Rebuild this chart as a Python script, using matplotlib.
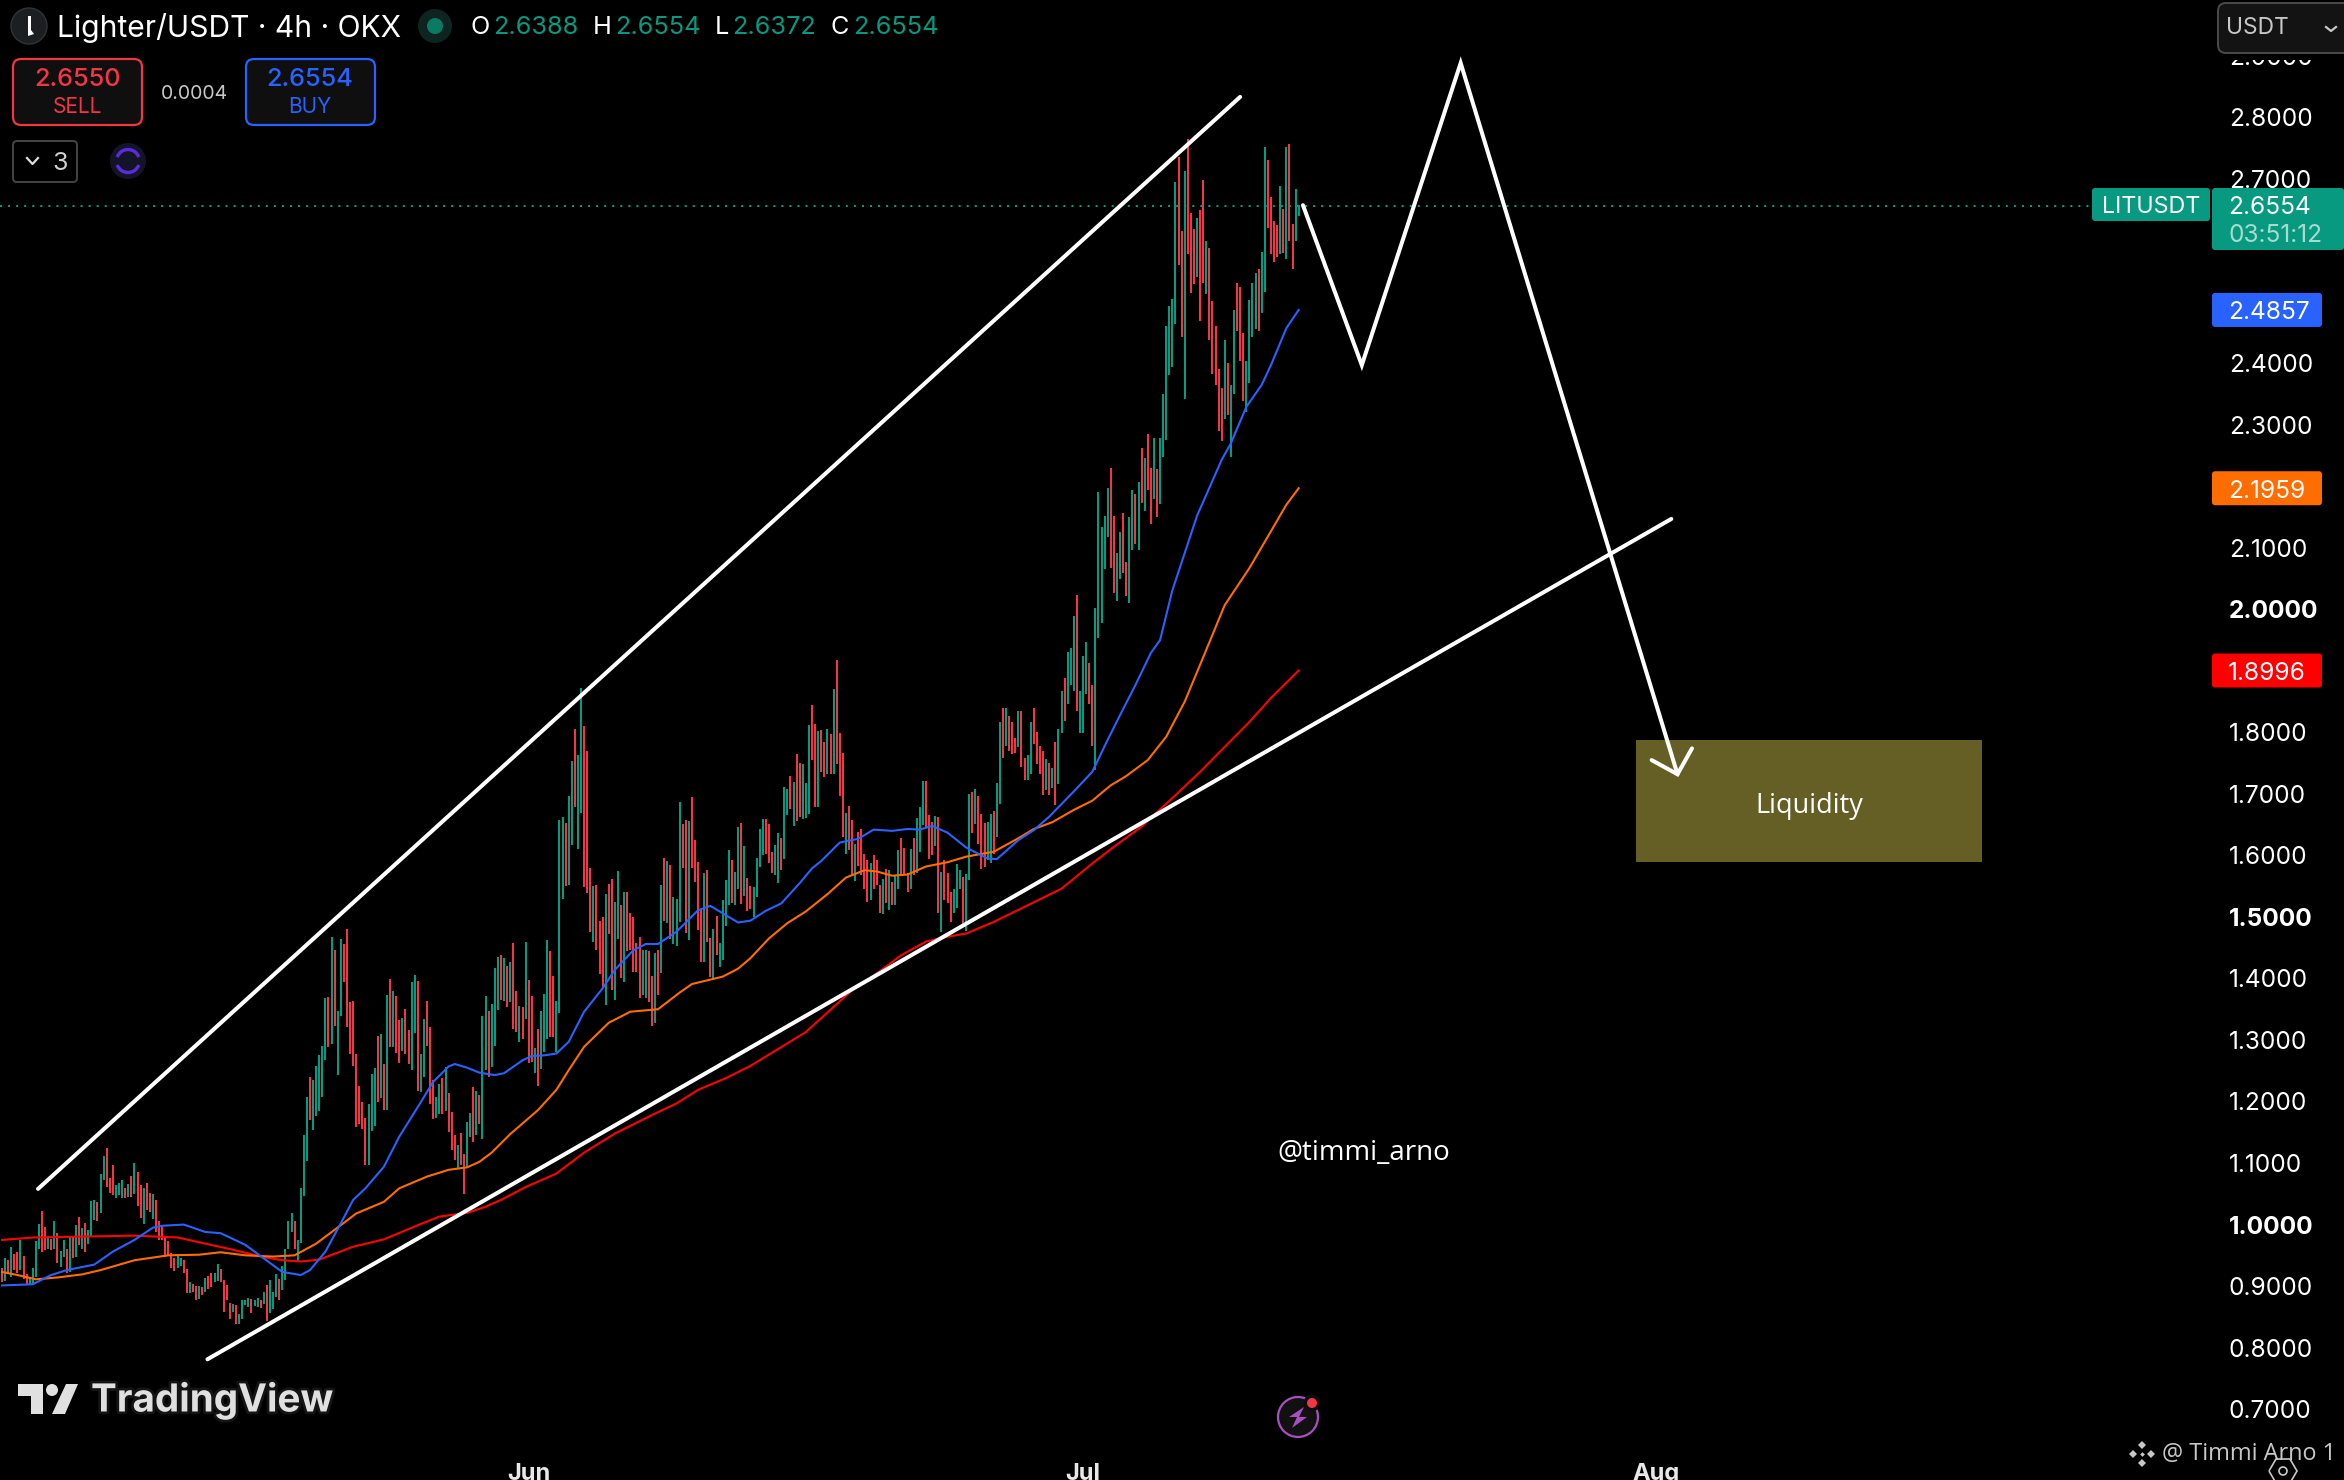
import numpy as np
import matplotlib
matplotlib.use('Agg')
import matplotlib.pyplot as plt
import matplotlib.patheffects as pe
from matplotlib.patches import FancyBboxPatch, Rectangle, Circle, Polygon, Arc

plt.rcParams['font.family'] = ['Inter', 'DejaVu Sans']

###################
### CHART DATA ###
###################

# 4h bars, one entry per bar (only the high-low range is visible in this chart style)
bar_high = [
    .928, .944, .941, .963, .951, .955, .974, .948, .919, .913,
    .928, .972, 1.000, 1.021, .995, .980, .975, 1.005, .986, .956,
    .974, .959, .978, .979, .998, 1.011, .993, 1.002, .990, 1.037,
    1.039, 1.035, 1.082, 1.110, 1.123, 1.074, 1.096, 1.063, 1.066, 1.072,
    1.059, 1.065, 1.078, 1.099, 1.084, 1.063, 1.058, 1.066, 1.050, 1.049,
    1.039, 1.004, .995, .979, .972, .952, .944, .951, .944, .942,
    .927, .905, .903, .899, .899, .898, .912, .916, .921, .921,
    .935, .926, .909, .900, .871, .870, .868, .853, .876, .876,
    .880, .878, .876, .879, .876, .890, .901, .909, .889, .919,
    .910, .932, .960, 1.004, 1.017, 1.004, .974,
    1.058, 1.145, 1.206, 1.239, 1.234, 1.257, 1.275, 1.289, 1.367, 1.369,
    1.466, 1.445, 1.346, 1.463, 1.455, 1.479, 1.361, 1.362, 1.276, 1.224,
    1.198, 1.172, 1.195, 1.244, 1.253, 1.305, 1.309, 1.260, 1.372, 1.398,
    1.379, 1.370, 1.331, 1.335, 1.349, 1.315, 1.393, 1.405, 1.395, 1.276,
    1.333, 1.362, 1.320, 1.234, 1.206, 1.227, 1.237, 1.255, 1.213, 1.182,
    1.144, 1.128, 1.148, 1.114, 1.166, 1.180, 1.222, 1.216, 1.209, 1.338,
    1.370, 1.346, 1.357, 1.416, 1.434, 1.437, 1.432, 1.419, 1.426, 1.457,
    1.379, 1.354, 1.353, 1.458, 1.397, 1.371, 1.286, 1.317, 1.346, 1.374,
    1.462, 1.444, 1.403, 1.362, 1.657, 1.661, 1.652, 1.696, 1.753, 1.805,
    1.762, 1.871, 1.809, 1.769, 1.578, 1.549, 1.551, 1.492, 1.499, 1.536,
    1.552, 1.561, 1.523, 1.574, 1.518, 1.539, 1.539, 1.505, 1.499, 1.457,
    1.466, 1.446, 1.445, 1.444, 1.403, 1.440, 1.445, 1.551, 1.595, 1.590,
    1.583, 1.531, 1.528, 1.686, 1.650, 1.657, 1.655, 1.694, 1.624, 1.588,
    1.510, 1.570, 1.576, 1.465, 1.479, 1.500, 1.457, 1.527, 1.559, 1.608,
    1.592, 1.572, 1.645, 1.652, 1.614, 1.562, 1.549, 1.548, 1.595, 1.642,
    1.658, 1.658, 1.650, 1.605, 1.616, 1.635, 1.627, 1.710, 1.707, 1.728,
    1.718, 1.764, 1.749, 1.748, 1.717, 1.811, 1.843, 1.813, 1.801, 1.803,
    1.783, 1.805, 1.796, 1.870, 1.917, 1.798, 1.766, 1.668, 1.679, 1.657,
    1.618, 1.637, 1.642, 1.601, 1.592, 1.587, 1.600, 1.592, 1.551, 1.561,
    1.577, 1.575, 1.556, 1.565, 1.608, 1.627, 1.611, 1.570, 1.609, 1.627,
    1.660, 1.678, 1.720, 1.720, 1.665, 1.653, 1.663, 1.661, 1.572, 1.592,
    1.570, 1.540, 1.544, 1.585, 1.575, 1.564, 1.569, 1.699, 1.702, 1.707,
    1.696, 1.666, 1.652, 1.653, 1.666, 1.671, 1.717, 1.816, 1.839, 1.839,
    1.826, 1.816, 1.790, 1.834, 1.834, 1.757, 1.762, 1.816, 1.839, 1.800,
    1.777, 1.769, 1.756, 1.749, 1.741, 1.783, 1.805, 1.866, 1.887, 1.930,
    1.936, 1.988, 2.022, 1.866, 1.923, 1.946, 1.912, 1.876, 2.001, 2.190,
    2.133, 2.151, 2.196, 2.229, 2.151, 2.091, 2.125, 2.156, 2.076, 2.149,
    2.193, 2.186, 2.206, 2.261, 2.245, 2.284, 2.229, 2.278, 2.227, 2.277,
    2.349, 2.460, 2.492, 2.503, 2.694, 2.734, 2.614, 2.712, 2.764, 2.643,
    2.617, 2.635, 2.648, 2.697, 2.598, 2.586, 2.500, 2.460, 2.390, 2.359,
    2.437, 2.399, 2.364, 2.486, 2.530, 2.523, 2.448, 2.403, 2.502, 2.530,
    2.546, 2.552, 2.580, 2.750, 2.729, 2.669, 2.630, 2.623, 2.687, 2.649,
    2.750, 2.756, 2.625, 2.683, 2.656,
]
bar_low = [
    .906, .907, .920, .914, .925, .920, .925, .910, .903, .900,
    .903, .914, .960, .955, .958, .960, .958, .959, .936, .930,
    .947, .921, .922, .944, .947, .965, .959, .954, .968, .980,
    1.007, 1.005, 1.018, 1.071, 1.060, 1.050, 1.047, 1.042, 1.047, 1.042,
    1.042, 1.043, 1.044, 1.049, 1.029, 1.009, 1.000, 1.023, 1.020, 1.008,
    .987, .974, .974, .947, .948, .929, .923, .928, .932, .920,
    .888, .888, .890, .876, .878, .885, .890, .894, .897, .906,
    .908, .906, .857, .876, .845, .857, .838, .837, .846, .868,
    .865, .856, .866, .865, .864, .870, .842, .855, .862, .882,
    .876, .893, .909, .960, .987, .959, .940,
    .969, 1.045, 1.102, 1.169, 1.153, 1.175, 1.184, 1.206, 1.266, 1.288,
    1.292, 1.322, 1.242, 1.338, 1.393, 1.320, 1.276, 1.257, 1.157, 1.162,
    1.154, 1.096, 1.096, 1.151, 1.159, 1.198, 1.205, 1.185, 1.185, 1.288,
    1.288, 1.278, 1.262, 1.281, 1.276, 1.260, 1.250, 1.310, 1.216, 1.214,
    1.239, 1.289, 1.195, 1.170, 1.172, 1.179, 1.179, 1.184, 1.149, 1.120,
    1.104, 1.089, 1.096, 1.049, 1.091, 1.141, 1.133, 1.144, 1.162, 1.138,
    1.250, 1.239, 1.255, 1.289, 1.348, 1.364, 1.362, 1.353, 1.361, 1.317,
    1.312, 1.296, 1.301, 1.333, 1.262, 1.263, 1.245, 1.224, 1.252, 1.279,
    1.301, 1.304, 1.304, 1.279, 1.343, 1.528, 1.549, 1.551, 1.616, 1.678,
    1.609, 1.668, 1.548, 1.538, 1.474, 1.458, 1.445, 1.406, 1.383, 1.356,
    1.471, 1.380, 1.364, 1.463, 1.399, 1.394, 1.443, 1.445, 1.410, 1.410,
    1.367, 1.372, 1.367, 1.360, 1.321, 1.326, 1.372, 1.408, 1.492, 1.489,
    1.463, 1.455, 1.451, 1.491, 1.578, 1.473, 1.462, 1.578, 1.556, 1.478,
    1.426, 1.426, 1.458, 1.402, 1.396, 1.437, 1.418, 1.429, 1.485, 1.518,
    1.521, 1.518, 1.544, 1.520, 1.533, 1.508, 1.512, 1.499, 1.532, 1.581,
    1.600, 1.602, 1.586, 1.571, 1.567, 1.555, 1.576, 1.593, 1.665, 1.674,
    1.647, 1.655, 1.662, 1.659, 1.660, 1.666, 1.754, 1.678, 1.678, 1.735,
    1.727, 1.731, 1.732, 1.732, 1.748, 1.696, 1.629, 1.601, 1.608, 1.567,
    1.557, 1.582, 1.567, 1.544, 1.524, 1.526, 1.545, 1.551, 1.505, 1.504,
    1.521, 1.510, 1.518, 1.518, 1.544, 1.565, 1.567, 1.540, 1.545, 1.567,
    1.570, 1.605, 1.648, 1.646, 1.593, 1.600, 1.614, 1.505, 1.475, 1.526,
    1.521, 1.491, 1.505, 1.513, 1.545, 1.483, 1.476, 1.559, 1.635, 1.650,
    1.618, 1.577, 1.581, 1.591, 1.586, 1.602, 1.629, 1.683, 1.757, 1.777,
    1.769, 1.764, 1.765, 1.776, 1.743, 1.722, 1.722, 1.732, 1.780, 1.748,
    1.732, 1.697, 1.705, 1.697, 1.708, 1.681, 1.715, 1.798, 1.818, 1.845,
    1.876, 1.866, 1.833, 1.798, 1.798, 1.861, 1.845, 1.777, 1.738, 1.952,
    1.977, 2.065, 2.117, 2.066, 2.026, 2.013, 2.048, 2.058, 2.021, 2.009,
    2.095, 2.105, 2.095, 2.172, 2.159, 2.193, 2.138, 2.178, 2.149, 2.171,
    2.247, 2.274, 2.380, 2.393, 2.463, 2.558, 2.441, 2.341, 2.577, 2.514,
    2.528, 2.540, 2.467, 2.530, 2.512, 2.437, 2.382, 2.363, 2.289, 2.272,
    2.309, 2.315, 2.247, 2.349, 2.452, 2.403, 2.338, 2.319, 2.367, 2.442,
    2.455, 2.452, 2.480, 2.515, 2.619, 2.577, 2.564, 2.572, 2.577, 2.578,
    2.569, 2.598, 2.553, 2.598, 2.638,
]
# g = up bar, r = down bar
bar_dir = (
    'rgrgrrgrrg' 'gggrrgrgrg' 'grgrgrgrgg' 'grggrrrggg' 'rgrgrrgrrg'
    'rrrrrrrggr' 'rgrrgrgrrg' 'grrrrgrggg' 'grggrgrggg' 'rggggrg'
    'gggrgggggr' 'grggrrrrrr' 'rrgggrgrgr' 'grrgrrggrg' 'grrrggrgrr'
    'rgrrggrgrg' 'grgggrgrgr' 'rgrgrrgrgg' 'grrgggrggr' 'ggrrrgrrrg'
    'rrggrgrrrr' 'rggrrgrgrg' 'rgggrrgrrr'
    'rgrrgrgggg' 'rggrgrrggg' 'grrrggrggr' 'grrgggrrgr' 'rgrgrrrgrr'
    'grrrrgrrrg' 'rgrggrrrgr' 'gggrrrgrgr' 'rrgggrggrg' 'rrrggrggrg'
    'rrrgrrggrr' 'rrgrgrggrg'
    'ggrgggrrgg' 'gggrrggrrg' 'grgrgrrgrg' 'gggggrrgrr' 'rgrrgrrrrr'
    'grggrrrggg' 'grggrrrrgr' 'grrgg'
)

# moving averages, read at bar positions
ema_blue_x = [0, 10, 16, 21, 30, 36, 43, 49, 52, 59, 66, 71, 79, 85, 91, 97, 100, 105, 110, 114,
              118, 124, 129, 135, 140, 145, 147, 151, 155, 160, 163, 169, 172, 176, 180, 184, 189,
              195, 199, 205, 209, 213, 219, 226, 230, 235, 239, 243, 248, 253, 259, 263, 266, 272,
              278, 283, 289, 294, 298, 302, 307, 313, 320, 323, 330, 335, 340, 348, 354, 359, 363,
              368, 373, 376, 380, 388, 396, 399, 404, 409, 412, 417, 421]
ema_blue_y = [.900, .902, .917, .925, .934, .955, .974, .994, .997, .999, .987, .985, .966, .944, .922, .917, .925, .955, 1.001, 1.039,
              1.058, 1.093, 1.142, 1.190, 1.231, 1.256, 1.260, 1.254, 1.246, 1.242, 1.245, 1.266, 1.273, 1.274, 1.277, 1.296, 1.345,
              1.383, 1.413, 1.445, 1.455, 1.455, 1.475, 1.510, 1.517, 1.502, 1.490, 1.493, 1.509, 1.521, 1.554, 1.578, 1.590, 1.620,
              1.626, 1.641, 1.639, 1.642, 1.641, 1.647, 1.636, 1.612, 1.594, 1.593, 1.624, 1.640, 1.662, 1.703, 1.735, 1.787, 1.827,
              1.876, 1.928, 1.949, 2.030, 2.151, 2.242, 2.269, 2.328, 2.364, 2.396, 2.456, 2.4857]
ema_orange_x = [0, 5, 11, 18, 26, 32, 43, 54, 64, 71, 79, 88, 95, 102, 110, 115, 124, 129, 138, 145,
                151, 155, 159, 165, 174, 180, 184, 189, 197, 204, 213, 220, 224, 234, 239, 243, 249,
                255, 261, 268, 274, 280, 284, 289, 294, 300, 307, 313, 322, 330, 335, 341, 348, 354,
                360, 365, 372, 378, 384, 389, 397, 405, 412, 417, 421]
ema_orange_y = [.922, .917, .910, .913, .918, .925, .941, .949, .950, .954, .949, .947, .949, .968, .998, 1.017, 1.036, 1.058, 1.077, 1.088,
                1.092, 1.101, 1.116, 1.146, 1.185, 1.218, 1.250, 1.288, 1.327, 1.345, 1.349, 1.376, 1.390, 1.402, 1.415, 1.432, 1.464,
                1.489, 1.508, 1.536, 1.563, 1.575, 1.573, 1.566, 1.568, 1.581, 1.588, 1.597, 1.605, 1.627, 1.642, 1.653, 1.673, 1.688,
                1.713, 1.728, 1.754, 1.792, 1.849, 1.909, 2.006, 2.066, 2.126, 2.169, 2.1959]
ema_red_x = [0, 10, 21, 32, 43, 57, 66, 75, 84, 91, 97, 103, 114, 124, 135, 142, 151, 157, 162, 170,
             180, 189, 199, 211, 219, 226, 235, 243, 261, 276, 281, 292, 300, 307, 313, 322, 333,
             344, 354, 361, 370, 381, 389, 405, 412, 421]
ema_red_y = [.974, .978, .979, .980, .981, .978, .968, .958, .947, .941, .939, .942, .963, .975, .998, 1.012, 1.018, 1.028, 1.039, 1.060,
             1.082, 1.116, 1.147, 1.177, 1.196, 1.218, 1.237, 1.257, 1.312, 1.380, 1.396, 1.437, 1.459, 1.467, 1.472, 1.491, 1.518,
             1.545, 1.586, 1.613, 1.646, 1.697, 1.735, 1.816, 1.855, 1.8996]

# hand drawn lines on the chart (bar position, price)
channel_top_x = [11.7, 402]
channel_top_y = [1.057, 2.832]
channel_bot_x = [66.7, 542]
channel_bot_y = [.780, 2.146]
path_x = [422.4, 441.5, 473.6, 544]
path_y = [2.656, 2.396, 2.887, 1.731]
head_x = [535.6, 544, 548.7]
head_y = [1.754, 1.731, 1.773]
liq_x = [530.5, 643]
liq_y = [1.588, 1.787]

# axes
y_ticks = [2.9, 2.8, 2.7, 2.6, 2.5, 2.4, 2.3, 2.2, 2.1, 2.0, 1.9, 1.8, 1.7, 1.6, 1.5,
           1.4, 1.3, 1.2, 1.1, 1.0, 0.9, 0.8, 0.7]
y_bold = [2.0, 1.5, 1.0]
x_ticks = [171, 351, 537]
x_labels = ['Jun', 'Jul', 'Aug']
last_price = 2.6554
ema_last = [2.4857, 2.1959, 1.8996]

GREEN = '#089981'
RED = '#F23645'
BLUE = '#2962FF'
ORANGE = '#FF6D00'
PURE_RED = '#FF0000'
W, H = 2344, 1480

##################
### MAIN CHART ###
##################

fig = plt.figure(figsize=(W / 100, H / 100), dpi=100, facecolor='black')
ax = fig.add_axes([0, 0, 1, 1])
ax.set_facecolor('black')
ax.set_xlim(-0.65, 760.4)
ax.set_ylim(0.5838, 2.9895)
ax.set_axis_off()

idx = np.arange(len(bar_high))
cols = [GREEN if d == 'g' else RED for d in bar_dir]
ax.vlines(idx, bar_low, bar_high, colors=cols, linewidth=1.45, zorder=2)

ax.plot(ema_red_x, ema_red_y, color=PURE_RED, lw=1.5, zorder=3)
ax.plot(ema_orange_x, ema_orange_y, color=ORANGE, lw=1.5, zorder=3)
ax.plot(ema_blue_x, ema_blue_y, color=BLUE, lw=1.5, zorder=3)

ax.axhline(last_price, xmin=0, xmax=2092 / W, color=GREEN, lw=1.45, ls=(0, (1, 3)), zorder=3)

white = dict(color='white', lw=2.9, solid_capstyle='round', solid_joinstyle='miter', zorder=4)
ax.plot(channel_top_x, channel_top_y, **white)
ax.plot(channel_bot_x, channel_bot_y, **white)
ax.plot(path_x, path_y, **white)
ax.plot(head_x, head_y, **white)

ax.add_patch(Rectangle((liq_x[0], liq_y[0]), liq_x[1] - liq_x[0], liq_y[1] - liq_y[0],
                       facecolor='#655F26', edgecolor='none', zorder=1))
ax.text(sum(liq_x) / 2, 1.680, 'Liquidity', color='white', ha='center', va='center',
        fontsize=19.5, family=['Open Sans', 'DejaVu Sans'], zorder=5)
ax.text(442, 1.1146, '@timmi_arno', color='white', ha='center', va='center',
        fontsize=20, family=['Open Sans', 'DejaVu Sans'], zorder=5)

# price and time labels
ytrans = ax.get_yaxis_transform()
for v in y_ticks:
    ax.text(2229 / W, v - 0.005, '%.4f' % v, transform=ytrans, color='white', fontsize=17.6, ha='left', va='center',
            fontweight='bold' if v in y_bold else 'normal', zorder=5)
xtrans = ax.get_xaxis_transform()
for t, lab in zip(x_ticks, x_labels):
    ax.text(t, 1 - 1474 / H, lab, transform=xtrans, color='#e8e8e8', fontsize=17, fontweight='bold',
            ha='center', va='center', zorder=5)

##################################
### TRADINGVIEW SCREEN OVERLAY ###
##################################

ov = fig.add_axes([0, 0, 1, 1])
ov.set_xlim(0, W)
ov.set_ylim(H, 0)
ov.set_axis_off()
ov.patch.set_alpha(0)


def box(x0, y0, x1, y1, face, edge='none', lw=0, r=8):
    ov.add_patch(FancyBboxPatch((x0 + r, y0 + r), x1 - x0 - 2 * r, y1 - y0 - 2 * r,
                                boxstyle='round,pad=%g,rounding_size=%g' % (r, r),
                                facecolor=face, edgecolor=edge, linewidth=lw))


def label(x, y, s, color='white', size=17, ha='center', **kw):
    # text sits about 3 px high with va=center
    ov.text(x, y + 3, s, color=color, fontsize=size, ha=ha, va='center', **kw)


# header
ov.add_patch(Circle((29, 26), 18, facecolor='#1b1f22', edgecolor='#303436', lw=1))
ov.add_patch(Polygon([(28, 16), (31, 16), (31, 30), (34, 34), (28, 36)], facecolor='white'))
label(57, 25, 'Lighter/USDT · 4h · OKX', size=21.6, ha='left')
ov.add_patch(Circle((435, 26), 17, facecolor='#0e2420'))
ov.add_patch(Circle((435, 26), 8, facecolor='#0b7a63'))
for lx, vx, ch, val in [(470, 493, 'O', '2.6388'), (593, 615, 'H', '2.6554'),
                        (715, 732, 'L', '2.6372'), (831, 853, 'C', '2.6554')]:
    label(lx, 25, ch, size=18.2, ha='left')
    label(vx, 25, val, color=GREEN, size=18.2, ha='left')

# sell / buy
box(13, 59, 142, 125, '#0f0f0f', RED, 1.6)
label(77, 76, '2.6550', color=RED, size=18.2, fontweight='medium')
label(77, 104, 'SELL', color=RED, size=15)
label(194, 91, '0.0004', color='#c8c8c8', size=14)
box(246, 59, 375, 125, '#0f0f0f', BLUE, 1.6)
label(310, 76, '2.6554', color=BLUE, size=18.2, fontweight='medium')
label(310, 104, 'BUY', color=BLUE, size=15)

# collapsed indicators + sync icon
box(13, 141, 77, 182, 'black', '#444444', 1.4, r=4)
ov.plot([27, 32.5, 38], [158, 164, 158], color='#dddddd', lw=1.6)
label(60, 160, '3', color='#d0d0d0', size=18)
ov.add_patch(Circle((128, 161), 18, facecolor='#141428'))
ov.add_patch(Arc((128, 161), 23, 23, theta1=200, theta2=340, color='#5B2BE0', lw=2.4))
ov.add_patch(Arc((128, 161), 23, 23, theta1=20, theta2=160, color='#5B2BE0', lw=2.4))

# currency box, hides the top tick label
ov.add_patch(Rectangle((2200, 0), 144, 60, facecolor='black', edgecolor='none'))
box(2218, 3, 2360, 53, '#131313', '#4a4a4a', 1.4, r=8)
label(2226, 25, 'USDT', color='#c8c8c8', size=16.4, ha='left')
ov.plot([2326, 2331, 2336], [27, 31, 27], color='#c8c8c8', lw=1.6)

# price tags
box(2092, 188, 2210, 221, GREEN, r=3)
box(2212, 188, 2344, 250, GREEN, r=3)
label(2151, 204, 'LITUSDT', size=16.8)
label(2228, 205, '%.4f' % last_price, size=17.6, ha='left')
label(2228, 232, '03:51:12', color='#a5dccf', size=17.6, ha='left')
for price, col in zip(ema_last, [BLUE, ORANGE, PURE_RED]):
    yp = H - ax.transData.transform((0, price))[1]
    box(2212, yp - 17, 2322, yp + 17, col, r=3)
    label(2228, yp, '%.4f' % price, size=17.6, ha='left')

# TradingView watermark
tv = '#e0e0e0'
ov.add_patch(Polygon([(18, 1384), (43, 1384), (43, 1414), (31, 1414), (31, 1396), (18, 1396)], facecolor=tv))
ov.add_patch(Circle((52, 1390), 6, facecolor=tv))
ov.add_patch(Polygon([(66, 1384), (78, 1384), (65, 1414), (52, 1414)], facecolor=tv))
ov.text(91, 1401, 'TradingView', color=tv, fontsize=27.8, fontweight='bold', ha='left', va='center',
        path_effects=[pe.withStroke(linewidth=4, foreground='#141414')])

# lightning icon
ov.add_patch(Circle((1298, 1417), 20, facecolor='#111111', edgecolor='#A94FC0', lw=1.6))
ov.add_patch(Polygon([(1304, 1407), (1289, 1417), (1297, 1417), (1292, 1428), (1307, 1417), (1299, 1417)],
                     facecolor='#A94FC0'))
ov.add_patch(Circle((1312, 1403), 8.5, facecolor='#0d0d0d'))
ov.add_patch(Circle((1312, 1403), 5, facecolor=RED))

# author mark bottom right
grey = '#c8c8c8'
for dx, dy in [(0, -9), (-9, 0), (9, 0), (0, 9), (0, 0)]:
    ov.plot(2142 + dx, 1454 + dy, marker='D', ms=3.6 if dx or dy else 2.4, color=grey, mew=0)
label(2162, 1451, '@ Timmi Arno 1', color=grey, size=16.9, ha='left', family=['Open Sans', 'DejaVu Sans'])
ov.add_patch(Polygon([(2269, 1471), (2276, 1459), (2290, 1459), (2297, 1471), (2290, 1483), (2276, 1483)],
                     facecolor='none', edgecolor=grey, lw=1.2))
ov.add_patch(Circle((2283, 1471), 4, facecolor='none', edgecolor=grey, lw=1.2))

fig.savefig('out.png', dpi=100, facecolor='black')
